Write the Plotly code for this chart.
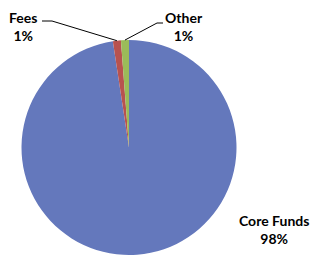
import math
import plotly.graph_objects as go

labels = ["Core Funds", "Fees", "Other"]
values = [97.6, 1.2, 1.2]
colors = ["#6478BC", "#B8524F", "#9BBB59"]

W, H = 313, 257
CX, CY, R = 129, 147.5, 107.5

def px(x):
    return x / W

def py(y):
    return 1 - y / H

fig = go.Figure(go.Pie(
    labels=labels, values=values, sort=False, direction="clockwise", rotation=0,
    marker=dict(colors=colors, line=dict(width=0)),
    textinfo="none", showlegend=False,
    domain=dict(x=[px(CX - R), px(CX + R)], y=[py(CY + R), py(CY - R)]),
))

total = sum(values)
cum = 0
mids = []
for v in values:
    mids.append((cum + v / 2) / total * 2 * math.pi)
    cum += v

def edge(i):
    a = mids[i]
    return CX + R * math.sin(a), CY - R * math.cos(a)

font = dict(family="Lato, Liberation Sans, sans-serif", size=14, color="#000")
anns = []
shapes = []
label_pos = {0: (274, 229), 1: (23, 27), 2: (184, 27)}
for i, lab in enumerate(labels):
    pct = round(values[i] / total * 100)
    x, y = label_pos[i]
    anns.append(dict(x=px(x), y=py(y), xref="paper", yref="paper", showarrow=False,
                     xanchor="center", yanchor="middle",
                     text=f"<b>{lab}</b><br><b>{pct}%</b>", font=font, align="center"))

# leader lines
ex, ey = edge(1)
shapes.append(dict(type="path", xref="paper", yref="paper",
                   path=f"M {px(42)} {py(21)} L {px(52)} {py(21)} L {px(ex)} {py(ey)}",
                   line=dict(color="#000", width=1)))
ex, ey = edge(2)
shapes.append(dict(type="path", xref="paper", yref="paper",
                   path=f"M {px(ex)} {py(ey)} L {px(157)} {py(23)} L {px(163)} {py(23)}",
                   line=dict(color="#000", width=1)))

fig.update_layout(width=W, height=H, margin=dict(l=0, r=0, t=0, b=0),
                  paper_bgcolor="white", plot_bgcolor="white",
                  annotations=anns, shapes=shapes)
fig.write_html("out.html", config={"displayModeBar": False},
               post_script="document.body.style.margin='0';")
